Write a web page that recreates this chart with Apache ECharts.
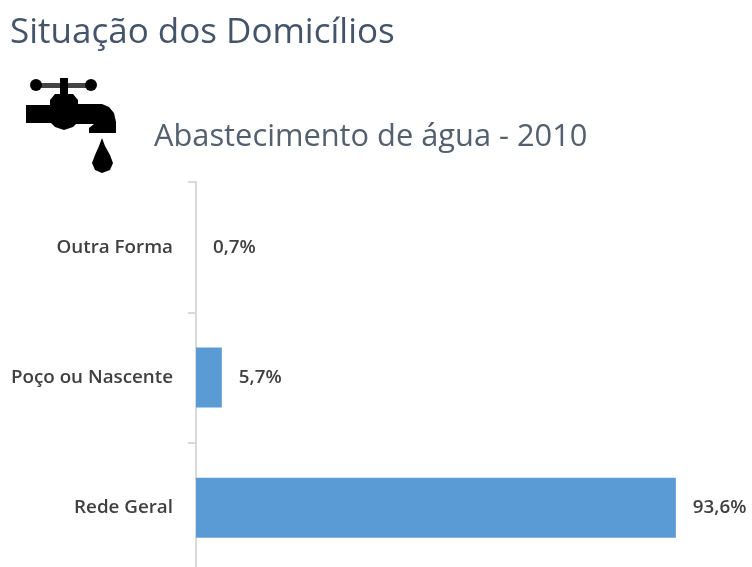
<!DOCTYPE html>
<html><head><meta charset="utf-8">
<style>html,body{margin:0;padding:0;background:#fff}#c{width:752px;height:567px}</style>
<script src="https://cdn.jsdelivr.net/npm/echarts@6/dist/echarts.min.js"></script></head>
<body><div id="c"></div>
<script>
var categories = ['Rede Geral', 'Poço ou Nascente', 'Outra Forma'];
var values = [93.6, 5.7, 0.7];
var labels = ['93,6%', '5,7%', '0,7%'];
var axisMin = 0.7;
var axisMax = 97.5;
var chart = echarts.init(document.getElementById('c'));
chart.setOption({
  animation: false,
  title: [
    {text: 'Situação dos Domicílios', left: 5, top: 11, textStyle: {fontFamily: 'Open Sans', fontSize: 35, fontWeight: 'normal', color: '#44546a'}},
    {text: 'Abastecimento de água - 2010', left: 149, top: 117, textStyle: {fontFamily: 'Open Sans', fontSize: 30.8, fontWeight: 'normal', color: '#55606e'}}
  ],
  grid: {left: 196, top: 182, width: 500, height: 391, outerBoundsMode: 'none'},
  xAxis: {type: 'value', min: axisMin, max: axisMax, show: false},
  yAxis: {type: 'category', data: categories,
    axisLine: {show: true, lineStyle: {color: '#d9d9d9', width: 2}},
    axisTick: {show: true, length: 8, lineStyle: {color: '#d9d9d9', width: 2}},
    axisLabel: {fontFamily: 'Open Sans', fontSize: 18.8, color: '#404040', margin: 23, fontWeight: 600}},
  series: [{type: 'bar', data: values, barWidth: 60, itemStyle: {color: '#5b9bd5'},
    label: {show: true, position: 'right', distance: 17, fontFamily: 'Open Sans', fontSize: 18.8, fontWeight: 600, color: '#404040',
      formatter: function(p){return labels[p.dataIndex];}}}],
  graphic: [
    {type: 'rect', shape: {x: 32, y: 83, width: 64, height: 5}, style: {fill: '#444'}},
    {type: 'circle', shape: {cx: 36, cy: 85, r: 6}, style: {fill: '#000'}},
    {type: 'circle', shape: {cx: 91, cy: 85, r: 6}, style: {fill: '#000'}},
    {type: 'rect', shape: {x: 60, y: 78, width: 8, height: 20}, style: {fill: '#000'}},
    {type: 'rect', shape: {x: 26, y: 105, width: 60, height: 18}, style: {fill: '#000'}},
    {type: 'polygon', shape: {points: [[50,100],[55,94],[73,94],[78,100],[78,122],[73,127],[64,130],[55,127],[50,122]]}, style: {fill: '#000'}},
    {type: 'polygon', shape: {points: [[76,104],[102,104],[109,107],[114,113],[116,122],[116,133],[89,133],[89,128],[94,124],[76,124]]}, style: {fill: '#000'}},
    {type: 'polygon', shape: {points: [[102,138],[105,146],[110,155],[113,163],[110,170],[102,173],[95,170],[92,163],[95,155],[99,146]]}, style: {fill: '#000'}}
  ]
});
</script></body></html>
